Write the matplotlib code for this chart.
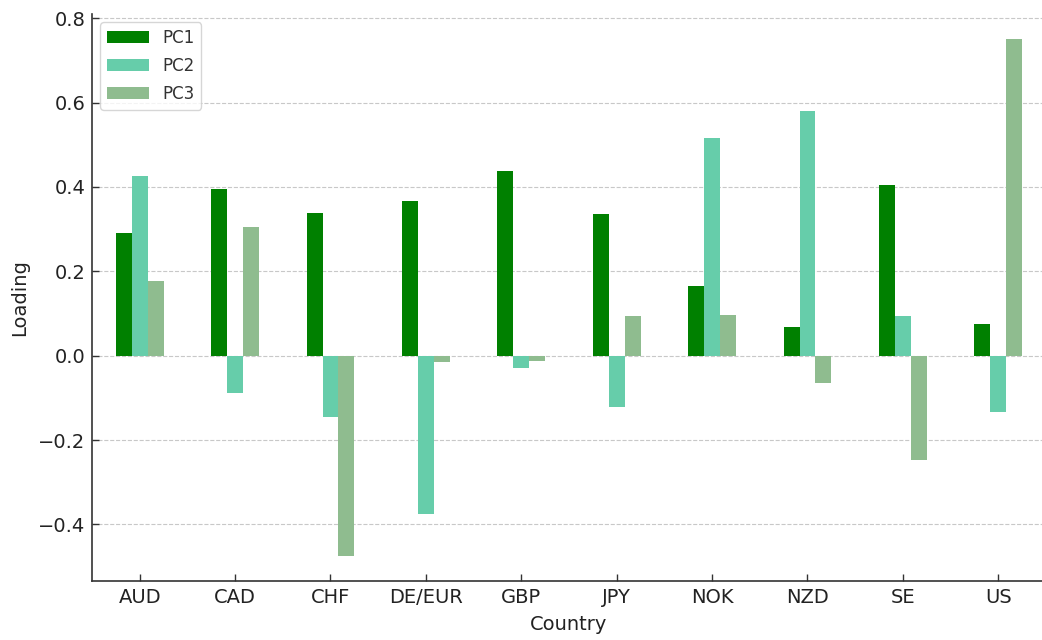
import matplotlib
matplotlib.use("Agg")
import matplotlib.pyplot as plt
import numpy as np

countries = ["AUD", "CAD", "CHF", "DE/EUR", "GBP", "JPY", "NOK", "NZD", "SE", "US"]
pc1 = [0.290, 0.396, 0.339, 0.366, 0.439, 0.337, 0.166, 0.069, 0.404, 0.076]
pc2 = [0.427, -0.088, -0.145, -0.375, -0.028, -0.121, 0.517, 0.579, 0.093, -0.133]
pc3 = [0.177, 0.304, -0.475, -0.014, -0.012, 0.095, 0.097, -0.064, -0.247, 0.750]
series = {"PC1": pc1, "PC2": pc2, "PC3": pc3}
colors = ["#008000", "#66CDAA", "#8FBC8F"]

fig = plt.figure(figsize=(10.42, 6.4), dpi=100)
ax = fig.add_axes([92/1042, 59/640, 954/1042, (640-59-14)/640])

x = np.arange(len(countries))
w = 0.5 / 3
for i, (name, vals) in enumerate(series.items()):
    ax.bar(x + (i - 1) * w, vals, width=w, color=colors[i], label=name)

ax.set_xlim(-0.5, len(countries) - 0.5)
ax.set_ylim(-0.534, 0.81)
ax.set_xticks(x)
ax.set_xticklabels(countries, fontsize=14, color="#222222")
ax.set_yticks([-0.4, -0.2, 0.0, 0.2, 0.4, 0.6, 0.8])
ax.set_yticklabels(["\u22120.4", "\u22120.2", "0.0", "0.2", "0.4", "0.6", "0.8"], fontsize=14, color="#222222")
ax.set_xlabel("Country", fontsize=14, labelpad=6.4, color="#222222")
ax.set_ylabel("Loading", fontsize=14, labelpad=6.4, color="#222222")
ax.grid(axis="y", linestyle="--", color="#c8c8c8", linewidth=0.8)
ax.set_axisbelow(True)
for s in ["top", "right"]:
    ax.spines[s].set_visible(False)
ax.spines["left"].set_linewidth(1.2)
ax.spines["bottom"].set_linewidth(1.2)
ax.spines["left"].set_color("#333333")
ax.spines["bottom"].set_color("#333333")
ax.tick_params(direction="in", length=5, width=1.0, color="#333333", pad=4.7)
leg = ax.legend(loc="upper left", fontsize=12, frameon=True, handlelength=2.5,
                labelspacing=0.6)
for t in leg.get_texts():
    t.set_color("#333333")

fig.savefig("out.png", dpi=100)
